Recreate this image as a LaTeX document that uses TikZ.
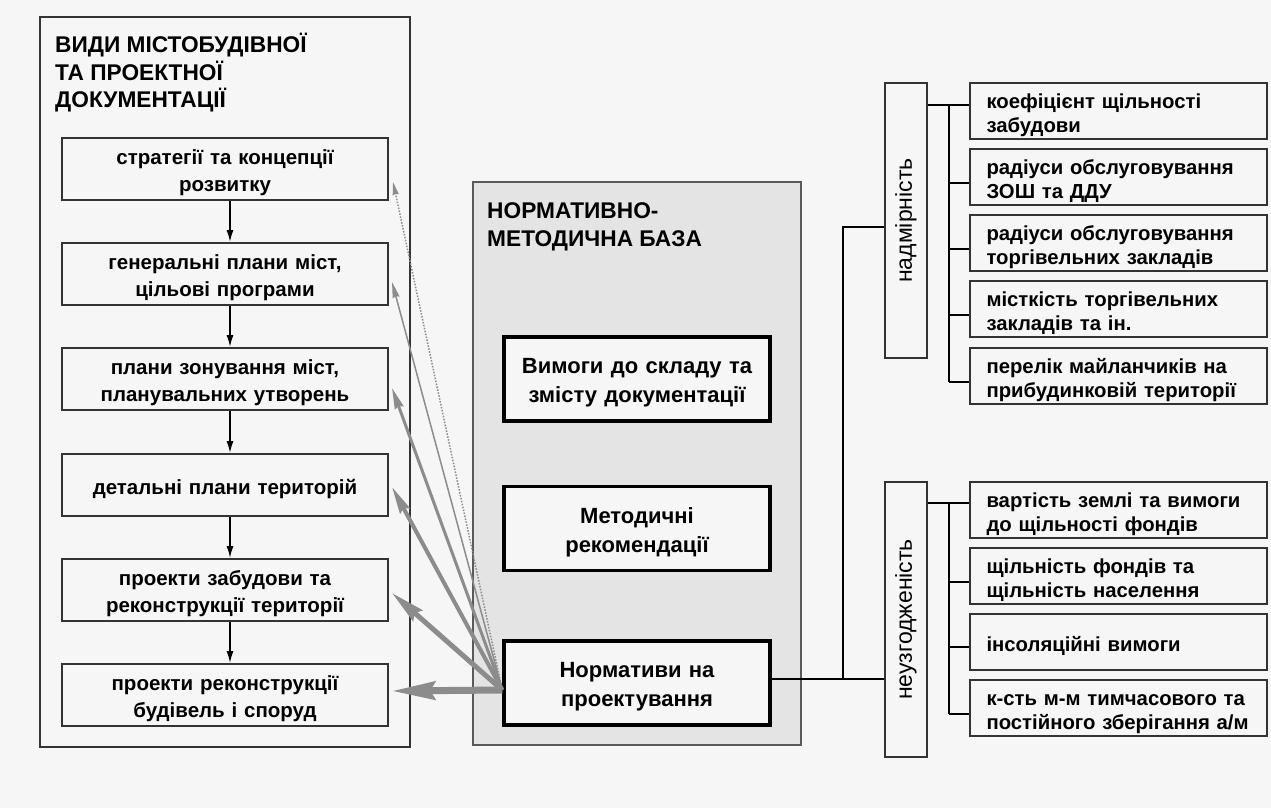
\documentclass[tikz,border=0pt]{standalone}
\usepackage{fontspec}
\setmainfont{Liberation Sans}
\usetikzlibrary{arrows.meta,calc}
\definecolor{bg}{HTML}{F6F6F6}
\definecolor{midgray}{HTML}{E4E4E4}
\definecolor{arr}{HTML}{8C8C8C}
\definecolor{edge}{HTML}{333333}
\definecolor{baseedge}{HTML}{5A5A5A}
\newcommand{\lstrut}{\rule[-5pt]{0pt}{28pt}}
\newcommand{\mstrut}{\rule[-6pt]{0pt}{29pt}}
\newcommand{\rstrut}{\rule[-5pt]{0pt}{29pt}}
\begin{document}
\begin{tikzpicture}[x=1pt,y=-1pt,
  container/.style={draw=edge,line width=2pt,fill=bg,inner sep=0pt},
  lbox/.style={draw=edge,line width=2pt,fill=bg,minimum height=62pt,text width=320pt,inner xsep=3pt,inner ysep=0pt,align=center,font=\fontsize{20.5}{27}\selectfont\bfseries,execute at begin node=\lstrut},
  mbox/.style={draw=black,line width=3.5pt,fill=bg,minimum height=84pt,text width=256pt,inner xsep=5pt,inner ysep=0pt,align=center,font=\fontsize{22}{29}\selectfont\bfseries,execute at begin node=\mstrut},
  rbox/.style={draw=edge,line width=2pt,fill=bg,minimum height=56pt,text width=264pt,inner xsep=16.5pt,inner ysep=0pt,align=left,font=\fontsize{20.3}{24}\selectfont\bfseries,execute at begin node=\rstrut},
  vbox/.style={draw=edge,line width=2pt,fill=bg,minimum width=275pt,minimum height=42pt,inner sep=0pt,rotate=90,font=\fontsize{23}{24}\selectfont},
  title/.style={anchor=west,inner sep=0pt,align=left,font=\fontsize{22.7}{27.5}\selectfont\bfseries},
  down/.style={-{Latex[length=12pt,width=7pt]},line width=1.5pt,black},
  conn/.style={line width=1.5pt,black},
  feed/.style={arr,line cap=butt},
]
\fill[bg] (0,0) rectangle (1271,808);
\useasboundingbox (0,0) rectangle (1271,808);

% left column
\node[container,minimum width=370pt,minimum height=730pt] (docs) at (225,382) {};
\node[title] (docstitle) at (55,73) {ВИДИ МІСТОБУДІВНОЇ\\ТА ПРОЕКТНОЇ\\ДОКУМЕНТАЦІЇ};
\node[lbox] (b1) at (225,169) {стратегії та концепції\\розвитку};
\node[lbox] (b2) at (225,274) {генеральні плани міст,\\цільові програми};
\node[lbox] (b3) at (225,379) {плани зонування міст,\\планувальних утворень};
\node[lbox] (b4) at (225,485) {детальні плани територій};
\node[lbox] (b5) at (225,590) {проекти забудови та\\реконструкції території};
\node[lbox] (b6) at (225,695) {проекти реконструкції\\будівель і споруд};
\foreach \a/\b in {b1/b2,b2/b3,b3/b4,b4/b5,b5/b6}
  \draw[down] ($(\a.south)+(5,0)$) -- ($(\b.north)+(5,0)$);

% middle column
\node[draw=baseedge,line width=2.5pt,fill=midgray,inner sep=0pt,minimum width=328pt,minimum height=563pt] (base) at (637,463.5) {};
\node[title] (basetitle) at (487,227) {НОРМАТИВНО-\\МЕТОДИЧНА БАЗА};
\node[mbox] (A) at (637,379) {Вимоги до складу та\\змісту документації};
\node[mbox] (B) at (637,528.5) {Методичні\\рекомендації};
\node[mbox] (C) at (637,683) {Нормативи на\\проектування};

% right column
\node[vbox] (n1) at (906,220.5) {надмірність};
\node[vbox] (n2) at (906,619.5) {неузгодженість};

\node[rbox] (r1) at (1118.5,111) {коефіцієнт щільності\\забудови};
\node[rbox] (r2) at (1118.5,177) {радіуси обслуговування\\ЗОШ та ДДУ};
\node[rbox] (r3) at (1118.5,243) {радіуси обслуговування\\торгівельних закладів};
\node[rbox] (r4) at (1118.5,309) {місткість торгівельних\\закладів та ін.};
\node[rbox] (r5) at (1118.5,375.5) {перелік майланчиків на\\прибудинковій території};

\node[rbox] (s1) at (1118.5,509.5) {вартість землі та вимоги\\до щільності фондів};
\node[rbox] (s2) at (1118.5,575.5) {щільність фондів та\\щільність населення};
\node[rbox] (s3) at (1118.5,641.5) {інсоляційні вимоги};
\node[rbox] (s4) at (1118.5,707.5) {к-сть м-м тимчасового та\\постійного зберігання а/м};

% connectors from the norms box
\coordinate (J) at (843,679);
\coordinate (Jt) at (843,227);
\draw[conn] (C.east |- J) -- (J) -- (n2.north |- J);
\draw[conn] (J) -- (Jt) -- (n1.north |- Jt);

% branches of надмірність
\coordinate (K1) at (949,105);
\coordinate (K2) at (949,382);
\draw[conn] (n1.south |- K1) -- (r1.west |- K1);
\draw[conn] (K1) -- (K2);
\foreach \n/\y in {r2/183,r3/249,r4/315,r5/382}
  \draw[conn] (949,\y) -- (\n.west |- 0,\y);

% branches of неузгодженість
\coordinate (L1) at (949,503);
\coordinate (L2) at (949,714);
\draw[conn] (n2.south |- L1) -- (s1.west |- L1);
\draw[conn] (L1) -- (L2);
\foreach \n/\y in {s2/582,s3/647,s4/714}
  \draw[conn] (949,\y) -- (\n.west |- 0,\y);

% feedback arrows from norms to documentation
\coordinate (src) at ($(C.west)+(0,7)$);
\draw[feed,line width=1.5pt,dash pattern=on 1.5pt off 1.5pt,-{Stealth[length=13pt,width=6pt,inset=1pt]}] (src) -- ($(b1.east)+(4,13)$);
\draw[feed,line width=1.5pt,-{Stealth[length=16pt,width=7pt,inset=1.5pt]}] (src) -- ($(b2.east)+(3,8)$);
\draw[feed,line width=3pt,-{Stealth[length=21pt,width=9pt,inset=2pt]}] (src) -- ($(b3.east)+(3,9)$);
\draw[feed,line width=4pt,-{Stealth[length=27pt,width=11pt,inset=3pt]}] (src) -- ($(b4.east)+(3,2)$);
\draw[feed,line width=5pt,-{Stealth[length=34pt,width=14pt,inset=4pt]}] (src) -- ($(b5.east)+(3,3)$);
\draw[feed,line width=7pt,-{Stealth[length=43pt,width=18pt,inset=5pt]}] (src) -- ($(b6.east)+(3,-4)$);
\end{tikzpicture}
\end{document}
